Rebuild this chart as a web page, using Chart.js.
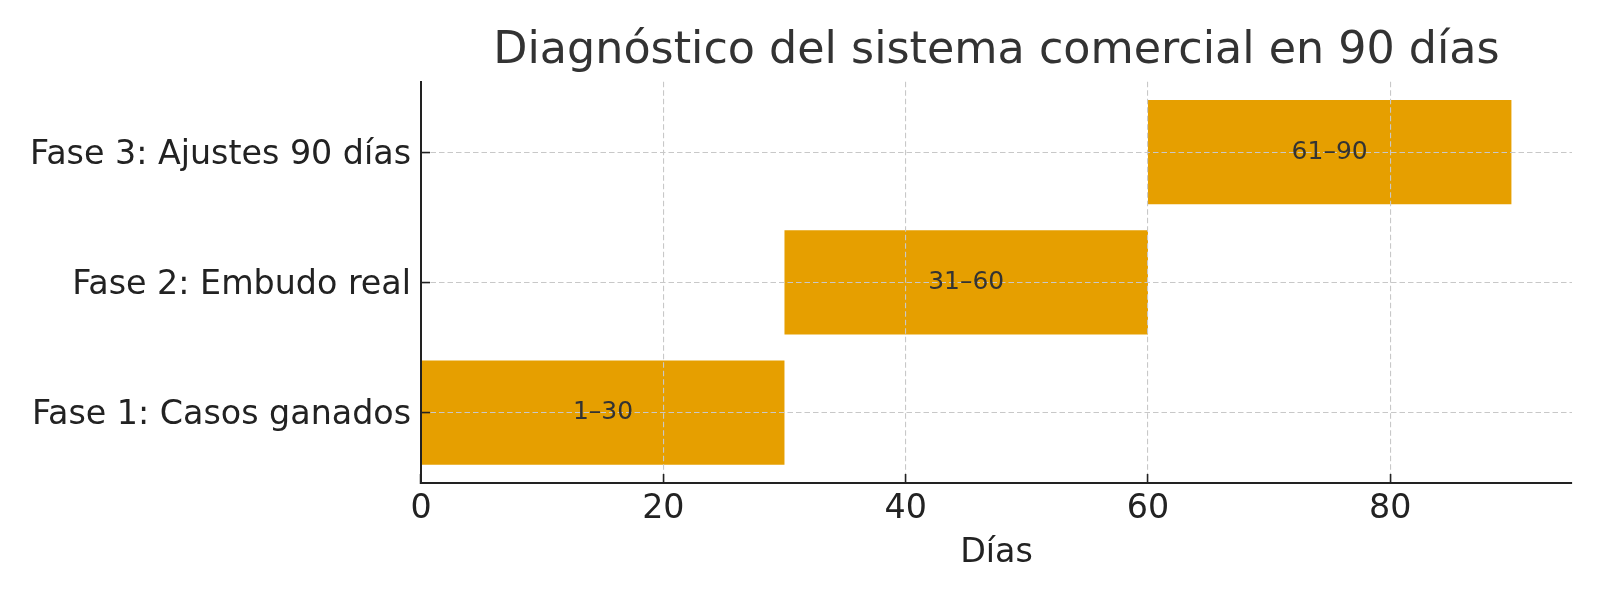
<!DOCTYPE html>
<html>
<head>
<meta charset="utf-8">
<script src="https://cdn.jsdelivr.net/npm/chart.js@4.4.1/dist/chart.umd.min.js"></script>
<style>
  html, body { margin: 0; padding: 0; background: #ffffff; }
  canvas { display: block; }
</style>
</head>
<body>
<canvas id="chart" width="1600" height="600" style="width:1600px;height:600px;"></canvas>
<script>
// ---- Data ----
const phases = ['Fase 1: Casos ganados', 'Fase 2: Embudo real', 'Fase 3: Ajustes 90 días'];
const startDays = [0, 30, 60];
const endDays = [30, 60, 90];
const rangeLabels = ['1–30', '31–60', '61–90'];
const dayTicks = [0, 20, 40, 60, 80];
const titleText = 'Diagnóstico del sistema comercial en 90 días';
const xAxisTitle = 'Días';

// ---- Build library structures ----
const FAMILY = "'DejaVu Sans', 'Liberation Sans', sans-serif";
const barData = phases.map((p, i) => ({ x: [startDays[i], endDays[i]], y: i }));

const barLabelPlugin = {
  id: 'barLabels',
  afterDraw(chart) {
    const ctx = chart.ctx;
    const meta = chart.getDatasetMeta(0);
    ctx.save();
    ctx.font = '25px ' + FAMILY;
    ctx.fillStyle = '#333333';
    ctx.textAlign = 'center';
    ctx.textBaseline = 'middle';
    meta.data.forEach((el, i) => {
      const c = el.getCenterPoint();
      ctx.fillText(rangeLabels[i], c.x, c.y);
    });
    ctx.restore();
  }
};

const tickFont = { family: FAMILY, size: 33.3, weight: 'normal' };
const gridOpts = {
  color: '#c8c8c8',
  lineWidth: 1.1,
  offset: false,
  drawTicks: true,
  tickLength: -9,
  tickColor: '#222222',
  tickWidth: 1.6,
  tickBorderDash: [],
  z: 1
};
const borderOpts = { display: true, color: '#222222', width: 2, dash: [5.5, 3], z: 1 };

new Chart(document.getElementById('chart').getContext('2d'), {
  type: 'bar',
  data: {
    datasets: [{
      data: barData,
      backgroundColor: '#E69F00',
      borderWidth: 0,
      barPercentage: 0.8,
      categoryPercentage: 1.0
    }]
  },
  options: {
    indexAxis: 'y',
    responsive: false,
    animation: false,
    devicePixelRatio: 1,
    layout: { padding: { left: 0, right: 28, top: 0, bottom: 0 } },
    plugins: {
      legend: { display: false },
      tooltip: { enabled: false },
      title: {
        display: true,
        text: titleText,
        fullSize: false,
        color: '#333333',
        font: { family: FAMILY, size: 44.4, weight: 'normal' },
        padding: { top: 25, bottom: 3.5 }
      }
    },
    scales: {
      x: {
        type: 'linear',
        position: 'bottom',
        offset: false,
        min: 0,
        max: 95,
        afterBuildTicks: (s) => { s.ticks = dayTicks.map(v => ({ value: v })); },
        afterFit: (s) => { s.height = 117; },
        ticks: { font: tickFont, color: '#222222', padding: 15, maxRotation: 0, autoSkip: false },
        grid: gridOpts,
        border: borderOpts,
        title: {
          display: true,
          text: xAxisTitle,
          color: '#222222',
          font: tickFont,
          padding: { top: 0, bottom: 27 }
        }
      },
      y: {
        type: 'linear',
        position: 'left',
        offset: false,
        min: -0.54,
        max: 2.54,
        afterBuildTicks: (s) => { s.ticks = phases.map((_, i) => ({ value: i })); },
        afterFit: (s) => { s.width = 421; },
        ticks: {
          font: tickFont,
          color: '#222222',
          padding: 19,
          labelOffset: 3,
          autoSkip: false,
          callback: (v) => (phases[v] !== undefined ? phases[v] : '')
        },
        grid: gridOpts,
        border: borderOpts
      }
    }
  },
  plugins: [barLabelPlugin]
});
</script>
</body>
</html>
